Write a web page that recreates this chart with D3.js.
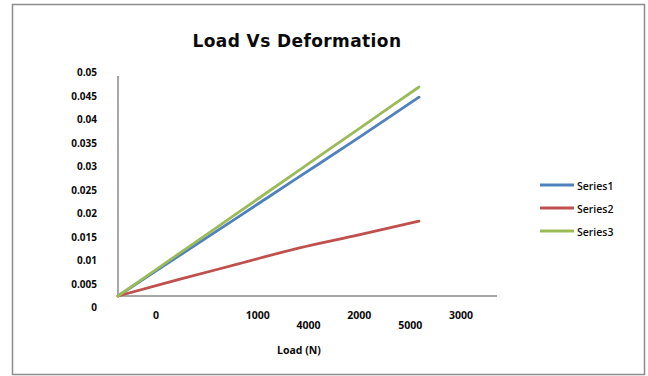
<!DOCTYPE html>
<html>
<head>
<meta charset="utf-8">
<script src="https://cdn.jsdelivr.net/npm/d3@7"></script>
<style>
  html, body { margin: 0; padding: 0; background: #fff; }
  svg { display: block; }
  text { font-family: "Open Sans", "DejaVu Sans", sans-serif; fill: #0a0a0a; }
</style>
</head>
<body>
<svg id="chart" width="648" height="376"></svg>
<script>
// ---- data ----
const loads = [0, 1000, 2000, 3000, 4000, 5000];
const seriesNames = ["Series1", "Series2", "Series3"];
const series1 = [0, 0.009, 0.018, 0.027, 0.036, 0.0452];
const series2 = [0, 0.0037, 0.0073, 0.0109, 0.0139, 0.0170];
const series3 = [0, 0.0095, 0.019, 0.0285, 0.038, 0.0475];
const yTickValues = [0, 0.005, 0.01, 0.015, 0.02, 0.025, 0.03, 0.035, 0.04, 0.045, 0.05];
const yTickLabels = ["0", "0.005", "0.01", "0.015", "0.02", "0.025", "0.03", "0.035", "0.04", "0.045", "0.05"];
const xTickLabels = ["0", "", "1000", "4000", "2000", "5000", "3000"];
const colors = ["#4F81BD", "#C0504D", "#9BBB59"];
const title = "Load Vs Deformation";
const xTitle = "Load (N)";

const svg = d3.select("#chart");

// outer border
svg.append("rect")
  .attr("x", 12.5).attr("y", 4.5).attr("width", 632).attr("height", 370)
  .attr("fill", "#fff").attr("stroke", "#8c8c8c").attr("stroke-width", 1.5);

// scales
const x = d3.scaleLinear().domain([0, 5000]).range([118, 419]);
const y = d3.scaleLinear().domain([0, 0.05]).range([296, 76]);
const yLabel = d3.scaleLinear().domain([0, 0.05]).range([307, 72]);
const xLabel = d3.scalePoint().domain(d3.range(xTickLabels.length)).range([156, 461]);

// axes lines
svg.append("line").attr("x1", 118).attr("x2", 118).attr("y1", y(0.05)).attr("y2", y(0))
  .attr("stroke", "#8a8a8a").attr("stroke-width", 1.5);
svg.append("line").attr("x1", 118).attr("x2", 497).attr("y1", y(0)).attr("y2", y(0))
  .attr("stroke", "#8a8a8a").attr("stroke-width", 1.5);

// y tick labels
svg.append("g").selectAll("text").data(yTickValues).join("text")
  .attr("x", 97).attr("y", d => yLabel(d))
  .attr("text-anchor", "end").attr("dominant-baseline", "central")
  .style("font-size", "10px").style("font-weight", "700")
  .text((d, i) => yTickLabels[i]);

// x tick labels (staggered)
svg.append("g").selectAll("text").data(xTickLabels).join("text")
  .attr("x", (d, i) => xLabel(i))
  .attr("y", (d, i) => i % 2 === 0 ? 314.5 : 324.5)
  .attr("text-anchor", "middle").attr("dominant-baseline", "central")
  .style("font-size", "10.5px").style("font-weight", "700")
  .text(d => d);

// axis title
svg.append("text").attr("x", 299).attr("y", 350)
  .attr("text-anchor", "middle").attr("dominant-baseline", "central")
  .style("font-size", "10.5px").style("font-weight", "700")
  .text(xTitle);

// chart title
svg.append("text").attr("x", 297).attr("y", 41)
  .attr("text-anchor", "middle").attr("dominant-baseline", "central")
  .style("font-family", "'DejaVu Sans', sans-serif")
  .style("font-size", "17px").style("font-weight", "700")
  .style("letter-spacing", "0.4px")
  .text(title);

// lines
const allSeries = [series1, series2, series3];
const line = d3.line().x((d, i) => x(loads[i])).y(d => y(d)).curve(d3.curveMonotoneX);
svg.append("g").selectAll("path").data(allSeries).join("path")
  .attr("d", d => line(d))
  .attr("fill", "none")
  .attr("stroke", (d, i) => colors[i])
  .attr("stroke-width", 2.8)
  .attr("stroke-linejoin", "round")
  .attr("stroke-linecap", "round");

// legend
const legend = svg.append("g").selectAll("g").data(seriesNames).join("g")
  .attr("transform", (d, i) => `translate(0, ${185 + i * 23})`);
legend.append("line").attr("x1", 540).attr("x2", 574).attr("y1", 0).attr("y2", 0)
  .attr("stroke", (d, i) => colors[i]).attr("stroke-width", 3);
legend.append("text").attr("x", 577).attr("y", 0.5)
  .attr("dominant-baseline", "central")
  .style("font-size", "10.5px").style("font-weight", "600")
  .text(d => d);
</script>
</body>
</html>
